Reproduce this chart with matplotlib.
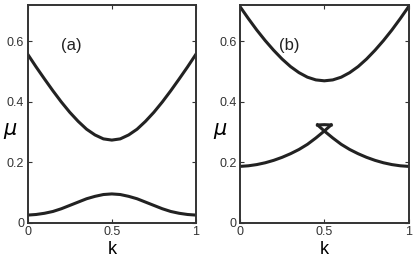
import numpy as np
import matplotlib
matplotlib.use("Agg")
import matplotlib.pyplot as plt

plt.rcParams['font.family'] = ['Liberation Sans', 'DejaVu Sans']

# k grid for left half (right half is mirror image)
k_half = [0.0, 0.05, 0.1, 0.15, 0.2, 0.25, 0.3, 0.35, 0.4, 0.45, 0.5]

# panel (a)
a_upper_half = [0.557, 0.515, 0.475, 0.436, 0.399, 0.365, 0.335, 0.309, 0.290, 0.277, 0.273]
a_lower_half = [0.025, 0.027, 0.031, 0.037, 0.046, 0.057, 0.068, 0.079, 0.087, 0.093, 0.095]

# panel (b)
b_upper_half = [0.715, 0.675, 0.637, 0.602, 0.570, 0.541, 0.516, 0.496, 0.481, 0.472, 0.469]
# lower branch rising from k=0 through crossing up to cusp
b_lower_k = [0.0, 0.05, 0.1, 0.15, 0.2, 0.25, 0.3, 0.35, 0.4, 0.45, 0.5, 0.52, 0.54]
b_lower_mu = [0.186, 0.188, 0.192, 0.198, 0.206, 0.216, 0.228, 0.242, 0.259, 0.280, 0.303, 0.313, 0.323]
# top branch of the swallowtail
b_top_k = [0.46, 0.48, 0.5, 0.52, 0.54]
b_top_mu = [0.323, 0.3235, 0.324, 0.3235, 0.323]


def mirror(kh, vh):
    kh = np.array(kh)
    vh = np.array(vh)
    k = np.concatenate([kh, 1 - kh[::-1][1:]])
    v = np.concatenate([vh, vh[::-1][1:]])
    return k, v


lc = '#222222'
lw = 2.2
fig = plt.figure(figsize=(4.15, 2.58), dpi=100)
ax1 = fig.add_axes([0.0667, 0.137, 0.4055, 0.844])
ax2 = fig.add_axes([0.578, 0.137, 0.407, 0.844])

k, v = mirror(k_half, a_upper_half)
ax1.plot(k, v, color=lc, lw=lw)
k, v = mirror(k_half, a_lower_half)
ax1.plot(k, v, color=lc, lw=lw)

k, v = mirror(k_half, b_upper_half)
ax2.plot(k, v, color=lc, lw=lw)
kl = np.array(b_lower_k)
ml = np.array(b_lower_mu)
ax2.plot(kl, ml, color=lc, lw=lw)
ax2.plot(1 - kl, ml, color=lc, lw=lw)
ax2.plot(b_top_k, b_top_mu, color=lc, lw=lw)

for ax, lab, lx, xlab in [(ax1, '(a)', 0.26, -0.105), (ax2, '(b)', 0.29, -0.118)]:
    ax.set_xlim(0, 1)
    ax.set_ylim(0, 0.72)
    ax.set_xticks([0, 0.5, 1])
    ax.set_xticklabels(['0', '0.5', '1'])
    ax.set_yticks([0, 0.2, 0.4, 0.6])
    ax.set_yticklabels(['0', '0.2', '0.4', '0.6'])
    ax.tick_params(direction='in', length=3, width=0.8, top=True, right=True,
                   labelsize=9, colors='#333333', pad=2.5)
    for s in ax.spines.values():
        s.set_linewidth(1.4)
        s.set_color('#333333')
    ax.set_xlabel('k', fontsize=13, labelpad=2)
    ax.set_ylabel(r'$\mu$', fontsize=15, rotation=0, va='center', ha='center')
    ax.yaxis.set_label_coords(xlab, 0.42)
    ax.text(lx, 0.587, lab, fontsize=12, ha='center', va='center', color='#222222')

fig.savefig('out.png', dpi=100)
